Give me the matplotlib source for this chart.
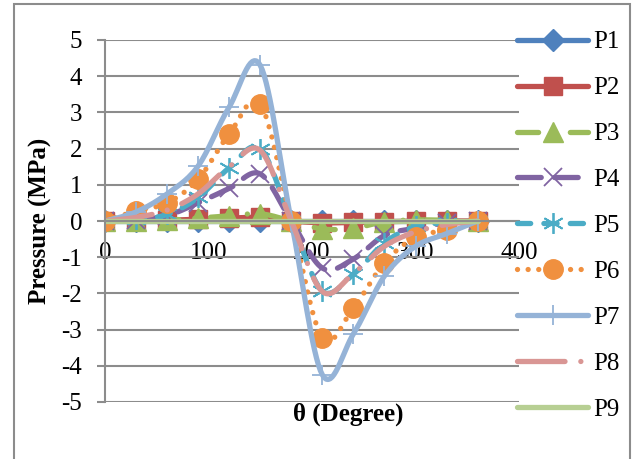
import numpy as np
import matplotlib
matplotlib.use("Agg")
import matplotlib.pyplot as plt
from matplotlib.patches import Rectangle

plt.rcParams['font.family'] = ['Liberation Serif', 'DejaVu Serif']
plt.rcParams['axes.unicode_minus'] = False

# dane
theta = [0, 30, 60, 90, 120, 150, 180, 210, 240, 270, 300, 330, 360]
P1 = [0, 0, 0, 0, 0, 0, 0, 0, 0, 0, 0, 0, 0]
P2 = [0, 0, 0.02, 0.05, 0.08, 0.1, 0, -0.05, -0.04, -0.02, 0, 0, 0]
P3 = [0, 0, 0.02, 0.08, 0.14, 0.2, 0, -0.22, -0.2, -0.02, 0.03, 0.02, 0]
P4 = [0, 0.03, 0.15, 0.5, 0.9, 1.3, 0, -1.3, -1.05, -0.4, -0.2, -0.05, 0]
P5 = [0, 0.05, 0.18, 0.65, 1.47, 2.0, 0, -1.93, -1.47, -0.6, -0.15, -0.05, 0]
P6 = [0, 0.28, 0.5, 1.15, 2.4, 3.23, 0, -3.23, -2.4, -1.15, -0.45, -0.25, 0]
P7 = [0, 0.25, 0.75, 1.52, 3.15, 4.3, 0, -4.25, -3.12, -1.52, -0.7, -0.35, 0]
P8 = [0, 0.1, 0.3, 0.75, 1.5, 1.95, 0, -1.95, -1.45, -0.7, -0.3, -0.1, 0]
P9 = [0, 0, 0, 0, 0, 0, 0, 0, 0, 0, 0, 0, 0]
nazwy = ["P1", "P2", "P3", "P4", "P5", "P6", "P7", "P8", "P9"]
serie = [P1, P2, P3, P4, P5, P6, P7, P8, P9]

# styl serii: kolor, kreski, marker, rozmiar markera, grubosc krawedzi markera
style = [
    ("#4F81BD", None, "D", 11, 1),
    ("#C0504D", None, "s", 13.5, 1),
    ("#9BBB59", (4, 3, 0.01, 3), "^", 14, 1),
    ("#8064A2", (4.5, 2.5), "x", 13, 1.3),
    ("#4BACC6", (2.5, 2.5), (6, 2, 0), 15, 1.3),
    ("#F0903F", (0.01, 2), "o", 14, 1),
    ("#95B3D7", None, "+", 15, 1.3),
    ("#D99694", (9, 3, 0.01, 3), None, 0, 1),
    ("#B7CF93", None, None, 0, 1),
]

N = 16


def wygladz(xs, ys, n=N):
    # krzywa jak w Excelu (Catmull-Rom), punkty danych co n probek
    pts = np.column_stack([xs, ys]).astype(float)
    P = np.vstack([pts[0], pts, pts[-1]])
    t = np.linspace(0, 1, n, endpoint=False)[:, None]
    out = []
    for i in range(len(pts) - 1):
        p0, p1, p2, p3 = P[i], P[i + 1], P[i + 2], P[i + 3]
        c1 = p1 + (p2 - p0) / 6
        c2 = p2 - (p3 - p1) / 6
        out.append((1 - t) ** 3 * p1 + 3 * (1 - t) ** 2 * t * c1
                   + 3 * (1 - t) * t ** 2 * c2 + t ** 3 * p2)
    out.append(pts[-1:])
    a = np.vstack(out)
    return a[:, 0], a[:, 1]


W, H = 632, 459
fig = plt.figure(figsize=(W / 100, H / 100), dpi=100)
fig.patches.append(Rectangle((14 / W, -0.1), (630 - 14) / W, 1.1 - 4 / H,
                             transform=fig.transFigure, fill=False,
                             edgecolor="#8C8C8C", linewidth=1.5))

ax = fig.add_axes([105 / W, 57 / H, 414 / W, 362 / H])
szary = "#8C8C8C"

linie = []
for y, (kolor, kreski, marker, ms, mew), nazwa in zip(serie, style, nazwy):
    xs, ys = wygladz(theta, y)
    kw = dict(color=kolor, linewidth=3.8, solid_capstyle="round",
              dash_capstyle="round", label=nazwa)
    if marker is not None:
        kw.update(marker=marker, markersize=ms, markevery=slice(0, None, N),
                  markerfacecolor=kolor, markeredgecolor=kolor,
                  markeredgewidth=mew)
    l, = ax.plot(xs, ys, **kw)
    if kreski is not None:
        l.set_dashes(kreski)
    linie.append(l)

ax.set_xlim(0, 400)
ax.set_ylim(-5, 5)
ax.set_yticks(range(-5, 6))
ax.set_xticks([0, 100, 200, 300, 400])
ax.set_axisbelow(True)
ax.yaxis.grid(True, color=szary, linewidth=1.5)
for s in ["top", "right"]:
    ax.spines[s].set_visible(False)
ax.spines["left"].set_color(szary)
ax.spines["left"].set_linewidth(1.5)
ax.spines["bottom"].set_position(("data", 0))
ax.spines["bottom"].set_color(szary)
ax.spines["bottom"].set_linewidth(1.5)
ax.tick_params(axis="y", length=5.8, width=1.5, color=szary, pad=10.5,
               labelsize=18)
ax.tick_params(axis="x", length=0, pad=15, labelsize=18)

fig.text(348 / W, 1 - 414 / H, "θ (Degree)", fontsize=18, fontweight="bold",
         ha="center", va="center")
fig.text(40 / W, 1 - 221 / H, "Pressure (MPa)", fontsize=18,
         fontweight="bold", rotation=90, ha="center", va="center")

fig.legend(handles=linie, labels=nazwy, loc="upper left",
           bbox_to_anchor=(517 / W, 1 - 31 / H), frameon=False,
           fontsize=18, borderpad=0, borderaxespad=0, handlelength=2.84,
           handletextpad=0.2, labelspacing=0.935, numpoints=1)

fig.savefig("out.png", dpi=100)
